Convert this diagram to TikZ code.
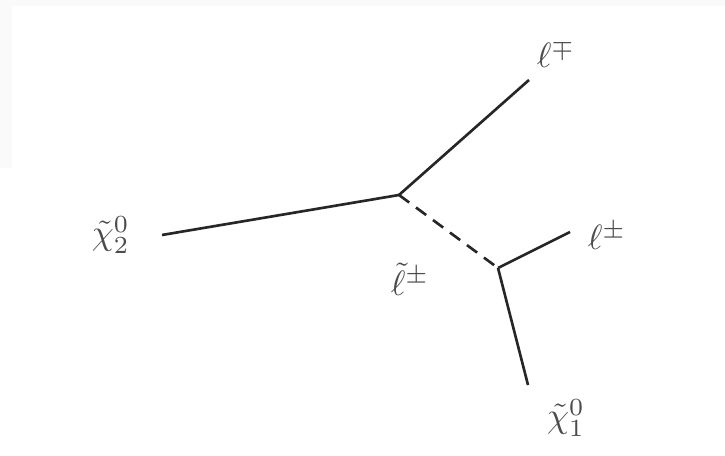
\documentclass[tikz,border=0pt]{standalone}
\usepackage{amsmath,amssymb}
\usepackage{tikz}
\usetikzlibrary{positioning}

\begin{document}
\begin{tikzpicture}[
  x=0.01cm, y=-0.01cm,
  prt/.style={line width=0.75pt, black!85},
  slep/.style={prt, dash pattern=on 3.6pt off 2.4pt},
  lbl/.style={inner sep=1pt, text=black!70}
]
% page and faint frame strips
\fill[white] (0,0) rectangle (725,456);
\fill[black!2] (0,0) rectangle (725,6);
\fill[black!2] (0,6) rectangle (12,168);

% vertices and free ends
\coordinate (vA) at (399,195);
\coordinate (vB) at (498,268);
\coordinate (eN2) at (162,235);
\coordinate (eL1) at (529,80);
\coordinate (eL2) at (570,232);
\coordinate (eN1) at (528,385);

\draw[prt] (eN2) -- (vA);
\draw[prt] (vA) -- (eL1);
\draw[slep] (vA) -- (vB);
\draw[prt] (vB) -- (eL2);
\draw[prt] (vB) -- (eN1);

\node[lbl, left=8pt of eN2] (n2) {$\tilde\chi^0_2$};
\node[lbl] (l1) at (556,54) {$\ell^\mp$};
\node[lbl] (sl) at (410,279) {$\tilde\ell^\pm$};
\node[lbl] (l2) at (607,236) {$\ell^\pm$};
\node[lbl] (n1) at (566,418) {$\tilde\chi^0_1$};
\end{tikzpicture}
\end{document}
